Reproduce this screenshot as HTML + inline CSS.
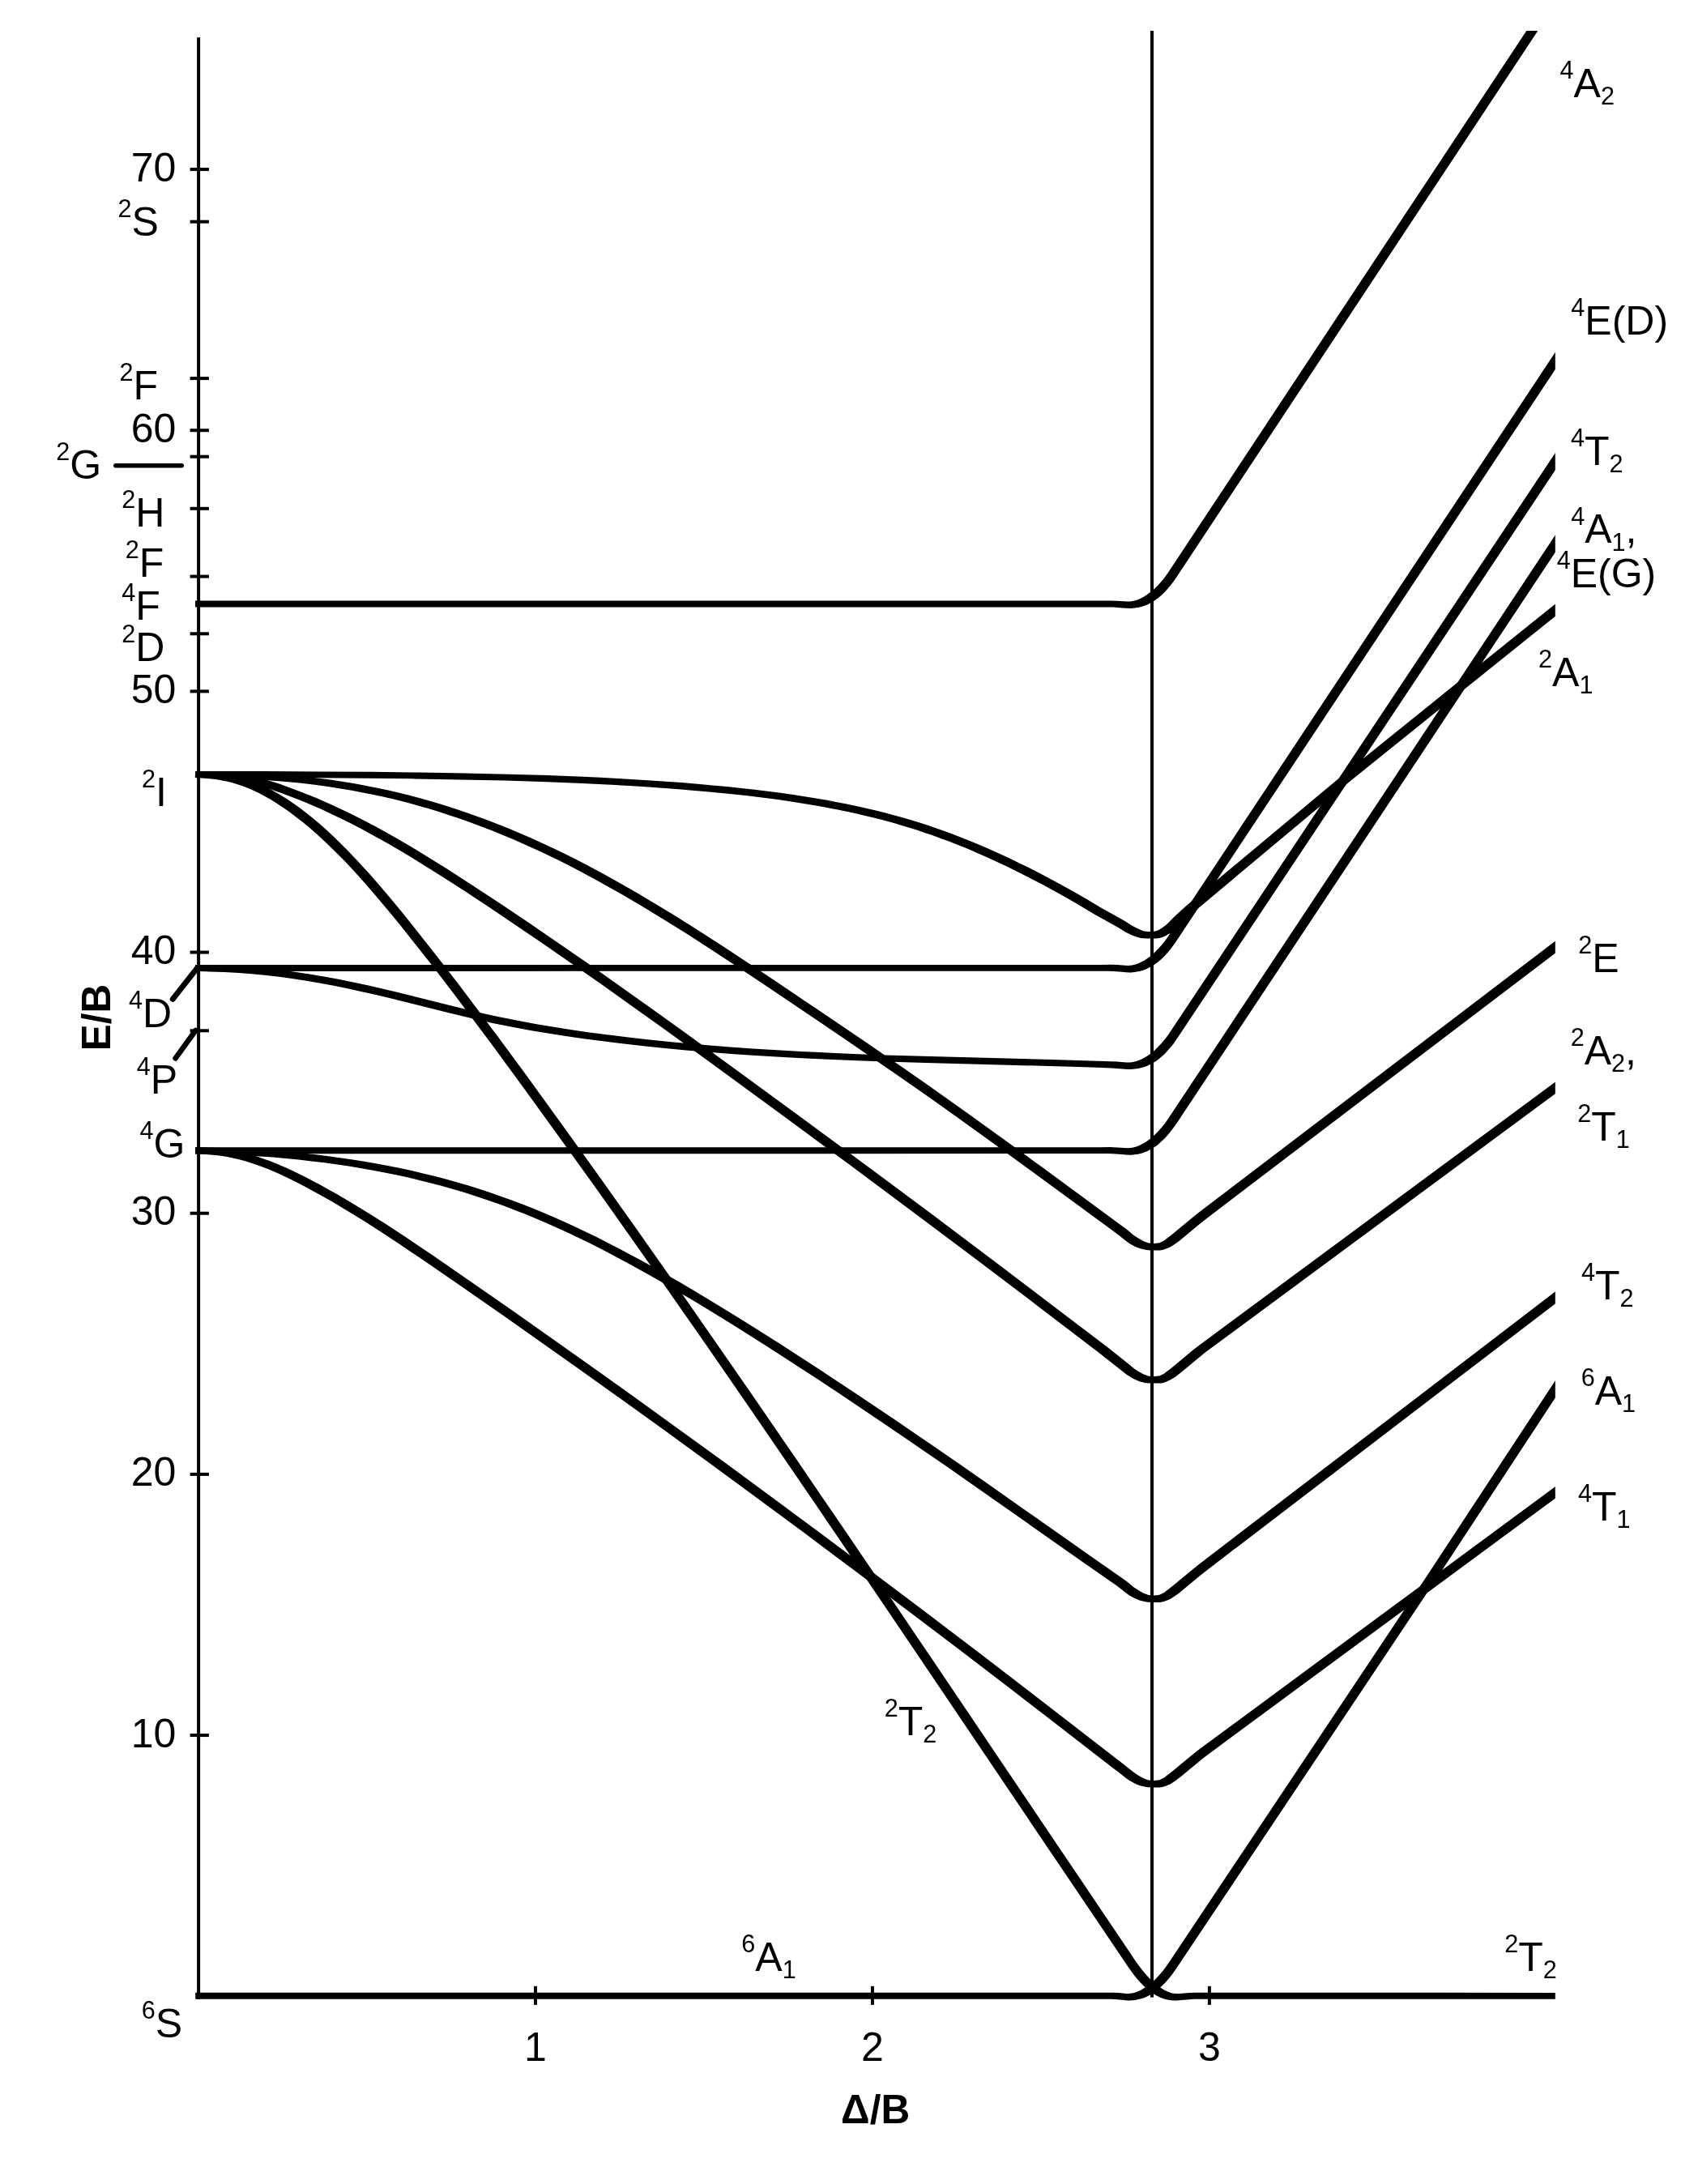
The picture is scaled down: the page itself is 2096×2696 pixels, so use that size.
<!DOCTYPE html>
<html><head><meta charset="utf-8"><title>d5 Tanabe-Sugano diagram</title>
<style>html,body{margin:0;padding:0;background:#fff}svg{display:block;will-change:transform}text{font-family:"Liberation Sans",Arial,Helvetica,sans-serif;fill:#000}</style></head><body>
<svg xmlns="http://www.w3.org/2000/svg" width="2096" height="2696" viewBox="0 0 2096 2696">
<rect width="2096" height="2696" fill="#fff"/>
<defs><clipPath id="cp"><rect x="0" y="38.0" width="1919.8" height="2696.0"/></clipPath></defs>
<g fill="#000">
<rect x="243.1" y="46.2" width="4" height="2421.8"/>
<rect x="1420" y="38" width="4" height="2427.6"/>
<rect x="234.6" y="207.08" width="23.3" height="4"/>
<rect x="234.6" y="529.24" width="23.3" height="4"/>
<rect x="234.6" y="851.40" width="23.3" height="4"/>
<rect x="234.6" y="1173.56" width="23.3" height="4"/>
<rect x="234.6" y="1495.72" width="23.3" height="4"/>
<rect x="234.6" y="1817.88" width="23.3" height="4"/>
<rect x="234.6" y="2140.04" width="23.3" height="4"/>
<rect x="234.6" y="271.70" width="23.3" height="4"/>
<rect x="234.6" y="465.10" width="23.3" height="4"/>
<rect x="234.6" y="561.70" width="23.3" height="4"/>
<rect x="234.6" y="625.80" width="23.3" height="4"/>
<rect x="234.6" y="709.60" width="23.3" height="4"/>
<rect x="234.6" y="780.30" width="23.3" height="4"/>
<rect x="234.6" y="1270.30" width="23.3" height="4"/>
<rect x="659.00" y="2451.8" width="4" height="23.1"/>
<rect x="1074.95" y="2451.8" width="4" height="23.1"/>
<rect x="1490.90" y="2451.8" width="4" height="23.1"/>
</g>
<g stroke="#000" stroke-linecap="round" fill="none">
<path d="M142.8 574.7H224.3" stroke-width="5.4"/>
<path d="M243.5 1194.9L213.2 1233.3" stroke-width="6.9"/>
<path d="M241.5 1272L216.6 1306.4" stroke-width="6.6"/>
</g>
<g clip-path="url(#cp)" fill="#000">
<path d="M241.0 749.5 L1367.2 749.4 L1374.1 749.6 L1385.1 750.4 L1389.7 750.8 L1394.2 751.0 L1396.2 751.0 L1400.5 750.6 L1404.7 749.9 L1406.8 749.5 L1409.0 748.9 L1411.2 748.3 L1415.3 746.8 L1417.3 745.9 L1421.6 743.7 L1423.6 742.4 L1427.5 739.8 L1431.4 736.7 L1435.3 733.3 L1439.0 729.4 L1444.4 723.2 L1448.0 718.6 L1451.6 713.6 L1911.4 18.2 L1901.6 11.8 L1441.8 707.0 L1438.6 711.6 L1435.4 715.8 L1430.3 721.4 L1428.7 723.2 L1425.4 726.4 L1422.2 729.3 L1415.6 734.3 L1412.5 736.3 L1410.9 737.2 L1405.8 739.7 L1402.5 740.9 L1399.1 741.8 L1395.6 742.4 L1392.1 742.6 L1379.0 741.7 L1370.3 741.4 L1357.0 741.5 L241.0 741.5Z"/>
<path d="M241.0 959.9 L323.0 960.0 L393.0 960.3 L455.0 960.7 L512.9 961.4 L568.9 962.4 L622.9 963.6 L668.9 965.0 L712.8 966.7 L754.8 968.8 L776.8 970.0 L796.7 971.3 L834.7 974.0 L854.6 975.7 L872.6 977.3 L890.6 979.0 L908.6 980.8 L924.5 982.6 L940.5 984.5 L956.4 986.6 L970.4 988.6 L984.3 990.7 L998.3 992.9 L1010.2 995.0 L1022.2 997.2 L1034.1 999.5 L1046.1 1002.0 L1058.0 1004.6 L1067.9 1006.9 L1079.9 1009.8 L1089.8 1012.3 L1101.7 1015.6 L1111.7 1018.4 L1121.6 1021.4 L1131.5 1024.6 L1141.4 1027.9 L1151.4 1031.3 L1161.3 1034.9 L1171.2 1038.6 L1183.1 1043.3 L1195.1 1048.1 L1207.0 1053.2 L1218.9 1058.5 L1230.8 1063.9 L1242.7 1069.5 L1254.7 1075.4 L1268.6 1082.4 L1288.5 1092.8 L1298.4 1098.2 L1310.3 1104.8 L1328.2 1115.1 L1350.3 1128.2 L1373.7 1141.2 L1380.4 1145.1 L1387.5 1149.5 L1391.1 1151.5 L1393.1 1152.5 L1397.3 1154.4 L1401.7 1156.1 L1406.2 1157.4 L1408.6 1157.9 L1411.0 1158.2 L1415.7 1158.5 L1424.6 1158.5 L1427.2 1158.5 L1429.7 1158.2 L1432.3 1157.7 L1435.4 1156.7 L1438.2 1155.4 L1442.7 1153.1 L1444.7 1151.9 L1446.7 1150.5 L1448.6 1149.0 L1450.3 1147.6 L1456.1 1141.7 L1460.4 1137.6 L1466.9 1131.6 L1471.6 1127.4 L1666.4 964.5 L1803.7 854.0 L1943.7 741.6 L1936.3 732.4 L1796.3 844.8 L1659.0 955.5 L1463.9 1118.5 L1459.0 1122.9 L1452.4 1129.0 L1447.9 1133.3 L1442.3 1139.1 L1439.7 1141.4 L1435.1 1144.9 L1431.1 1147.5 L1429.3 1148.5 L1427.8 1149.0 L1426.0 1149.5 L1424.0 1149.8 L1420.0 1150.1 L1418.1 1150.1 L1414.3 1149.8 L1412.4 1149.4 L1410.6 1148.9 L1409.0 1148.3 L1407.2 1147.6 L1403.6 1145.9 L1396.3 1142.0 L1388.1 1136.8 L1384.1 1134.4 L1358.6 1120.2 L1342.0 1110.3 L1323.7 1099.8 L1303.6 1088.7 L1283.5 1078.0 L1271.4 1071.8 L1259.3 1065.9 L1247.3 1060.0 L1235.2 1054.4 L1223.1 1049.0 L1211.0 1043.7 L1199.0 1038.7 L1188.9 1034.7 L1178.8 1030.7 L1166.7 1026.2 L1154.6 1022.0 L1144.6 1018.6 L1134.5 1015.3 L1124.4 1012.2 L1114.3 1009.2 L1102.3 1005.9 L1092.2 1003.2 L1080.1 1000.2 L1068.0 997.4 L1056.0 994.7 L1043.9 992.2 L1031.9 989.9 L1019.8 987.6 L1005.7 985.2 L991.7 982.9 L977.6 980.8 L963.6 978.8 L947.5 976.7 L931.5 974.8 L915.5 973.0 L897.4 971.1 L879.4 969.4 L861.4 967.8 L841.3 966.1 L803.3 963.4 L763.2 961.0 L741.2 959.8 L719.2 958.8 L675.1 957.1 L627.1 955.7 L573.1 954.4 L517.1 953.5 L459.0 952.8 L395.0 952.4 L325.0 952.1 L241.0 952.0Z"/>
<path d="M241.0 960.0 L258.9 960.1 L274.9 960.5 L290.9 961.0 L304.8 961.5 L320.8 962.4 L334.7 963.4 L350.6 964.7 L364.6 966.0 L378.5 967.5 L392.4 969.3 L406.4 971.2 L420.3 973.4 L434.2 975.8 L448.1 978.4 L462.1 981.2 L474.0 983.8 L487.9 987.1 L501.8 990.6 L515.7 994.4 L527.7 997.8 L541.6 1002.1 L553.5 1005.9 L567.4 1010.6 L581.3 1015.5 L593.2 1019.9 L607.2 1025.3 L621.1 1030.9 L635.0 1036.8 L648.9 1042.9 L662.8 1049.2 L676.7 1055.8 L690.7 1062.6 L702.6 1068.6 L714.5 1074.8 L726.5 1081.2 L740.4 1088.7 L752.3 1095.4 L766.3 1103.3 L792.2 1118.5 L819.2 1134.9 L848.3 1153.1 L879.1 1172.9 L913.3 1195.4 L939.0 1212.5 L969.8 1233.2 L1016.1 1264.5 L1052.1 1289.0 L1103.4 1324.3 L1125.7 1339.8 L1149.7 1356.6 L1177.1 1376.1 L1204.5 1395.7 L1233.6 1416.7 L1266.1 1440.4 L1368.9 1515.8 L1381.3 1525.1 L1389.1 1531.3 L1392.4 1533.7 L1394.2 1534.9 L1398.1 1537.2 L1400.1 1538.2 L1404.0 1539.9 L1408.3 1541.5 L1410.6 1542.1 L1415.1 1543.0 L1417.5 1543.3 L1421.9 1543.4 L1430.7 1543.4 L1433.7 1543.2 L1436.6 1542.5 L1439.4 1541.5 L1442.1 1540.4 L1444.3 1539.4 L1448.3 1537.1 L1452.0 1534.6 L1455.5 1531.9 L1460.0 1528.3 L1481.7 1510.2 L1489.0 1504.4 L1943.6 1158.5 L1936.4 1149.1 L1480.4 1496.2 L1472.6 1502.5 L1450.2 1521.1 L1445.0 1525.3 L1438.7 1530.1 L1437.3 1531.2 L1435.3 1532.3 L1433.3 1533.3 L1431.7 1534.0 L1430.0 1534.4 L1423.9 1535.0 L1422.1 1535.0 L1420.3 1534.8 L1418.6 1534.6 L1416.9 1534.2 L1415.3 1533.6 L1411.7 1532.2 L1409.9 1531.3 L1406.8 1529.6 L1403.6 1527.6 L1400.4 1525.5 L1397.8 1523.4 L1391.7 1518.3 L1384.2 1512.7 L1288.4 1442.3 L1254.1 1417.3 L1223.2 1394.9 L1194.1 1374.0 L1164.9 1353.2 L1140.9 1336.3 L1118.6 1320.8 L1068.8 1286.5 L1034.5 1263.2 L993.3 1235.4 L959.0 1212.3 L931.6 1193.9 L893.8 1169.0 L861.2 1148.0 L845.7 1138.2 L830.2 1128.6 L816.5 1120.2 L801.8 1111.4 L787.8 1103.1 L773.7 1094.9 L759.7 1087.0 L747.6 1080.3 L733.6 1072.7 L721.5 1066.3 L709.4 1060.1 L697.4 1054.1 L683.3 1047.3 L669.2 1040.7 L655.1 1034.3 L641.0 1028.2 L626.9 1022.3 L612.9 1016.7 L598.8 1011.3 L586.7 1006.9 L572.6 1001.9 L558.5 997.3 L544.4 992.8 L532.4 989.2 L520.3 985.8 L506.2 982.1 L492.1 978.6 L478.0 975.3 L465.9 972.7 L451.9 969.9 L437.8 967.3 L423.7 965.0 L409.6 962.8 L395.6 960.9 L381.5 959.2 L367.4 957.7 L353.4 956.4 L337.3 955.2 L323.3 954.3 L307.2 953.5 L291.1 952.9 L275.1 952.4 L259.1 952.2 L241.0 952.0Z"/>
<path d="M240.9 960.0 L250.9 960.3 L258.8 960.6 L266.7 961.1 L274.6 961.8 L282.5 962.7 L290.4 963.7 L298.3 965.0 L304.1 966.2 L312.0 967.9 L317.8 969.5 L325.7 971.7 L331.6 973.5 L339.4 976.2 L347.3 979.0 L357.2 982.7 L367.1 986.6 L377.1 990.6 L387.0 994.8 L396.9 999.1 L406.8 1003.7 L416.7 1008.4 L426.7 1013.2 L436.6 1018.2 L448.5 1024.5 L458.4 1029.9 L470.3 1036.5 L482.3 1043.3 L494.2 1050.3 L505.6 1057.1 L519.2 1065.4 L544.8 1081.5 L572.2 1099.1 L604.7 1120.6 L637.2 1142.4 L671.5 1165.7 L705.7 1189.4 L741.7 1214.6 L779.4 1241.4 L820.5 1270.8 L889.0 1320.5 L969.6 1379.5 L1046.7 1436.3 L1122.1 1492.4 L1200.9 1551.6 L1278.0 1609.9 L1356.7 1669.9 L1368.1 1678.9 L1390.6 1696.7 L1394.2 1699.1 L1396.1 1700.3 L1398.1 1701.4 L1402.0 1703.3 L1405.9 1704.9 L1408.3 1705.7 L1410.6 1706.3 L1412.9 1706.9 L1415.1 1707.2 L1417.5 1707.5 L1419.7 1707.6 L1430.7 1707.6 L1433.7 1707.4 L1436.6 1706.7 L1439.4 1705.7 L1442.1 1704.6 L1444.3 1703.6 L1448.3 1701.3 L1452.0 1698.8 L1458.7 1693.5 L1480.1 1675.7 L1485.6 1671.2 L1489.0 1668.6 L1943.5 1332.6 L1936.5 1323.2 L1488.6 1654.5 L1480.5 1660.4 L1472.6 1666.6 L1450.2 1685.3 L1445.0 1689.5 L1438.7 1694.3 L1437.3 1695.4 L1435.3 1696.5 L1433.3 1697.5 L1431.7 1698.2 L1430.0 1698.6 L1423.9 1699.2 L1422.1 1699.2 L1418.6 1698.8 L1416.9 1698.4 L1415.3 1697.8 L1411.7 1696.4 L1409.9 1695.5 L1405.2 1692.9 L1400.4 1689.7 L1397.7 1687.6 L1389.7 1680.9 L1367.1 1663.1 L1309.1 1618.9 L1228.5 1557.7 L1147.9 1497.1 L1072.5 1440.9 L997.0 1385.2 L918.1 1327.4 L846.1 1275.0 L803.2 1244.2 L762.0 1214.9 L724.3 1188.3 L686.5 1162.2 L650.5 1137.6 L616.2 1114.5 L581.8 1091.9 L552.6 1073.1 L538.8 1064.4 L525.1 1055.9 L513.0 1048.6 L499.8 1040.8 L487.7 1033.8 L475.7 1027.0 L463.6 1020.3 L453.5 1015.0 L441.4 1008.7 L431.4 1003.7 L421.3 998.9 L411.2 994.2 L401.1 989.7 L391.0 985.3 L380.9 981.2 L368.8 976.4 L352.7 970.4 L344.6 967.5 L336.5 964.9 L328.3 962.5 L322.2 960.9 L314.0 958.9 L307.9 957.7 L299.8 956.3 L293.6 955.4 L285.5 954.4 L277.4 953.6 L269.3 953.0 L261.2 952.5 L251.1 952.2 L241.1 952.0Z"/>
<path d="M240.8 960.1 L250.8 960.5 L258.6 961.2 L266.5 962.1 L274.3 963.4 L282.0 965.1 L287.8 966.6 L295.5 968.9 L303.3 971.8 L311.0 975.0 L318.7 978.6 L326.5 982.7 L334.3 987.1 L340.9 991.2 L349.3 996.7 L357.6 1002.6 L366.0 1009.0 L374.5 1015.6 L382.9 1022.6 L391.4 1030.0 L399.0 1036.9 L407.9 1045.4 L416.8 1054.2 L425.8 1063.3 L434.7 1072.8 L443.3 1082.2 L452.6 1092.7 L461.9 1103.4 L472.5 1115.9 L483.1 1128.8 L493.8 1141.8 L505.7 1156.8 L519.0 1173.6 L532.4 1190.6 L547.0 1209.6 L561.7 1228.8 L577.6 1249.9 L610.7 1294.2 L646.6 1343.3 L689.8 1402.9 L733.0 1463.1 L777.4 1525.7 L824.2 1592.2 L872.2 1661.1 L922.6 1734.0 L975.3 1811.0 L1032.9 1895.4 L1084.5 1971.5 L1142.1 2056.7 L1308.9 2304.1 L1381.3 2411.3 L1392.9 2428.6 L1399.2 2437.3 L1400.5 2439.0 L1404.3 2443.5 L1408.1 2447.8 L1410.0 2449.8 L1413.9 2453.6 L1415.8 2455.4 L1419.8 2458.6 L1423.8 2461.3 L1427.8 2463.6 L1431.8 2465.6 L1436.0 2467.2 L1439.9 2468.3 L1444.0 2469.0 L1448.1 2469.4 L1452.1 2469.4 L1470.8 2468.0 L1475.1 2467.8 L1480.1 2467.7 L1940.0 2467.8 L1940.0 2459.9 L1491.8 2459.8 L1476.8 2459.7 L1468.2 2460.0 L1461.7 2460.4 L1455.3 2460.9 L1451.9 2461.0 L1448.9 2460.8 L1445.8 2460.2 L1442.7 2459.1 L1441.1 2458.5 L1438.1 2457.0 L1435.0 2455.2 L1430.2 2451.9 L1426.8 2449.4 L1423.6 2446.6 L1420.2 2443.4 L1416.7 2439.8 L1411.4 2433.7 L1408.5 2430.1 L1402.5 2422.0 L1391.0 2404.8 L1318.7 2297.6 L1151.9 2050.1 L1093.1 1963.1 L1041.5 1887.1 L983.9 1802.6 L931.0 1725.6 L880.6 1652.7 L832.6 1583.8 L784.6 1515.5 L739.0 1451.2 L693.4 1387.7 L650.2 1328.1 L614.1 1279.1 L581.7 1235.8 L565.7 1214.6 L551.0 1195.5 L536.3 1176.6 L521.6 1157.9 L509.6 1142.8 L497.6 1127.8 L486.9 1114.8 L476.2 1102.0 L465.5 1089.5 L456.1 1078.8 L447.8 1069.7 L438.8 1060.0 L429.7 1050.5 L420.7 1041.4 L411.6 1032.6 L402.5 1024.1 L394.0 1016.6 L385.3 1009.3 L378.4 1003.7 L369.7 997.0 L362.6 992.0 L353.8 986.1 L345.1 980.7 L337.7 976.5 L329.5 972.1 L321.2 968.2 L315.0 965.5 L306.8 962.4 L300.5 960.3 L292.3 958.0 L284.0 956.1 L275.7 954.6 L267.5 953.6 L259.4 952.8 L251.2 952.3 L241.2 952.0Z"/>
<path d="M241.0 1198.9 L1367.2 1198.8 L1374.1 1199.0 L1385.1 1199.8 L1389.7 1200.2 L1394.2 1200.4 L1396.3 1200.4 L1400.5 1200.0 L1404.6 1199.3 L1406.7 1198.9 L1411.1 1197.7 L1413.2 1196.9 L1417.3 1195.1 L1421.3 1193.0 L1425.4 1190.6 L1429.4 1187.6 L1433.3 1184.3 L1438.8 1178.7 L1442.5 1174.6 L1446.2 1170.1 L1451.4 1162.8 L1944.9 418.2 L1935.1 411.8 L1441.8 1156.2 L1436.9 1162.9 L1433.6 1167.0 L1430.3 1170.6 L1425.3 1175.7 L1420.4 1180.0 L1417.2 1182.4 L1412.3 1185.7 L1410.7 1186.6 L1407.4 1188.3 L1404.1 1189.7 L1400.7 1190.8 L1398.9 1191.2 L1395.5 1191.8 L1392.1 1192.0 L1379.0 1191.1 L1370.3 1190.8 L1357.0 1191.0 L241.0 1191.0Z"/>
<path d="M241.0 1199.1 L258.9 1199.4 L276.8 1200.0 L294.7 1201.0 L310.7 1202.2 L326.6 1203.7 L344.5 1205.8 L360.4 1208.0 L378.3 1210.7 L394.2 1213.5 L412.1 1216.8 L430.1 1220.5 L448.0 1224.4 L464.0 1228.0 L481.9 1232.3 L551.9 1249.8 L579.9 1256.6 L594.0 1259.8 L608.0 1262.9 L622.1 1265.8 L636.2 1268.6 L656.2 1272.2 L676.3 1275.6 L698.3 1279.0 L722.4 1282.4 L746.4 1285.6 L770.5 1288.6 L794.5 1291.3 L818.6 1293.8 L846.6 1296.4 L874.7 1298.8 L902.7 1301.0 L932.7 1303.0 L962.8 1304.8 L994.8 1306.5 L1028.8 1308.0 L1064.8 1309.5 L1100.9 1310.7 L1142.9 1312.0 L1286.9 1315.8 L1346.9 1317.6 L1371.8 1318.5 L1391.9 1320.0 L1396.3 1320.0 L1400.7 1319.6 L1405.0 1319.0 L1407.1 1318.6 L1411.3 1317.4 L1415.6 1315.9 L1419.7 1314.1 L1421.8 1313.0 L1423.9 1311.8 L1427.9 1309.3 L1429.9 1307.8 L1433.7 1304.6 L1437.5 1301.2 L1442.8 1295.3 L1448.2 1288.9 L1451.6 1284.1 L1944.9 542.7 L1935.1 536.1 L1442.0 1277.5 L1438.8 1281.7 L1434.0 1287.6 L1429.1 1292.8 L1424.3 1297.4 L1422.7 1298.8 L1419.5 1301.2 L1416.2 1303.6 L1414.6 1304.6 L1409.7 1307.3 L1406.2 1308.8 L1402.8 1310.0 L1399.3 1310.8 L1395.7 1311.4 L1392.1 1311.6 L1390.3 1311.5 L1378.6 1310.6 L1370.6 1310.2 L1299.1 1308.1 L1139.1 1303.8 L1093.1 1302.4 L1053.2 1300.9 L1021.2 1299.5 L989.2 1298.0 L959.2 1296.3 L929.3 1294.5 L901.3 1292.5 L873.3 1290.3 L847.4 1288.0 L821.4 1285.5 L797.5 1283.0 L773.5 1280.3 L749.5 1277.3 L727.6 1274.4 L705.6 1271.2 L683.7 1267.8 L663.8 1264.5 L643.8 1260.8 L629.9 1258.1 L615.9 1255.3 L602.0 1252.2 L586.1 1248.5 L558.1 1241.8 L490.1 1224.8 L472.1 1220.4 L456.0 1216.7 L435.9 1212.4 L417.9 1208.7 L399.8 1205.4 L383.7 1202.7 L365.6 1199.9 L347.5 1197.5 L329.4 1195.5 L313.4 1194.0 L297.3 1192.9 L279.2 1192.0 L261.1 1191.4 L241.0 1191.1Z"/>
<path d="M241.0 1424.2 L1367.2 1424.1 L1374.1 1424.3 L1385.1 1425.1 L1389.7 1425.5 L1394.2 1425.7 L1396.3 1425.7 L1400.5 1425.3 L1404.6 1424.7 L1406.7 1424.2 L1408.9 1423.7 L1411.1 1423.0 L1415.2 1421.4 L1417.2 1420.5 L1421.3 1418.3 L1423.4 1417.1 L1427.4 1414.4 L1429.4 1412.9 L1435.0 1407.8 L1437.0 1405.9 L1438.9 1403.9 L1444.4 1397.6 L1447.9 1393.0 L1452.6 1386.4 L1944.9 643.9 L1935.1 637.5 L1442.8 1379.8 L1438.5 1386.0 L1435.2 1390.2 L1430.2 1395.9 L1427.0 1399.3 L1422.0 1403.9 L1417.1 1407.7 L1415.5 1408.9 L1412.2 1410.9 L1407.3 1413.6 L1404.1 1415.0 L1400.7 1416.1 L1398.9 1416.5 L1395.5 1417.1 L1392.1 1417.3 L1379.0 1416.4 L1370.3 1416.1 L1357.0 1416.2 L241.0 1416.2Z"/>
<path d="M241.0 1424.3 L256.9 1424.6 L272.9 1425.0 L288.8 1425.6 L304.8 1426.4 L320.7 1427.4 L336.7 1428.6 L352.6 1430.0 L368.6 1431.6 L384.5 1433.4 L400.4 1435.3 L416.4 1437.5 L430.3 1439.6 L446.3 1442.2 L460.2 1444.7 L476.1 1447.7 L490.1 1450.6 L504.0 1453.6 L517.9 1456.9 L531.8 1460.4 L543.8 1463.6 L557.7 1467.5 L571.6 1471.6 L585.5 1476.0 L597.4 1480.0 L611.4 1484.8 L623.3 1489.1 L637.2 1494.4 L649.1 1499.1 L661.0 1504.0 L675.0 1510.0 L688.9 1516.2 L702.8 1522.6 L714.7 1528.3 L726.7 1534.1 L738.6 1540.1 L752.5 1547.3 L766.5 1554.7 L780.4 1562.2 L794.4 1570.0 L808.3 1577.8 L822.3 1585.8 L838.2 1595.2 L854.2 1604.6 L870.7 1614.6 L904.9 1635.6 L940.8 1658.3 L963.1 1672.5 L985.3 1687.0 L1009.3 1702.6 L1035.0 1719.6 L1084.7 1752.9 L1136.0 1787.9 L1168.6 1810.3 L1202.8 1834.2 L1334.8 1927.0 L1370.3 1951.7 L1377.2 1956.5 L1382.5 1960.5 L1389.1 1965.8 L1392.4 1968.2 L1394.2 1969.4 L1398.1 1971.7 L1402.0 1973.6 L1405.9 1975.2 L1408.3 1976.0 L1410.6 1976.6 L1415.1 1977.5 L1417.5 1977.8 L1421.9 1977.9 L1430.7 1977.9 L1433.7 1977.7 L1436.6 1977.0 L1439.4 1976.0 L1442.1 1974.9 L1444.3 1973.9 L1448.3 1971.6 L1452.0 1969.1 L1455.5 1966.4 L1460.0 1962.8 L1481.7 1944.7 L1489.0 1938.9 L1943.6 1591.2 L1936.4 1581.8 L1480.4 1930.7 L1472.6 1937.0 L1450.2 1955.6 L1445.0 1959.8 L1438.7 1964.6 L1437.3 1965.7 L1435.3 1966.8 L1433.3 1967.8 L1431.7 1968.5 L1430.0 1968.9 L1423.9 1969.5 L1422.1 1969.5 L1420.3 1969.3 L1418.6 1969.1 L1416.9 1968.7 L1415.3 1968.1 L1411.7 1966.7 L1409.9 1965.8 L1406.8 1964.1 L1402.0 1961.1 L1399.1 1959.0 L1391.6 1952.7 L1385.4 1948.2 L1348.5 1922.5 L1216.3 1829.5 L1183.7 1806.8 L1152.8 1785.5 L1103.1 1751.5 L1055.0 1719.3 L1007.0 1687.6 L984.6 1673.0 L962.3 1658.6 L924.6 1634.7 L905.7 1622.9 L888.5 1612.4 L871.3 1602.0 L853.8 1591.6 L837.8 1582.1 L821.7 1572.9 L805.7 1563.8 L791.6 1556.0 L777.6 1548.4 L763.5 1540.9 L749.4 1533.7 L737.4 1527.6 L723.3 1520.7 L711.2 1515.0 L697.2 1508.5 L683.1 1502.3 L669.0 1496.3 L656.9 1491.3 L644.8 1486.6 L630.7 1481.2 L618.7 1476.9 L604.6 1472.0 L592.5 1468.0 L578.4 1463.6 L564.3 1459.5 L550.3 1455.5 L536.2 1451.8 L522.1 1448.4 L508.0 1445.1 L493.9 1442.1 L479.9 1439.2 L463.8 1436.2 L449.7 1433.8 L433.7 1431.2 L419.6 1429.2 L403.6 1427.0 L387.5 1425.1 L371.4 1423.3 L355.4 1421.8 L339.3 1420.4 L323.3 1419.3 L307.2 1418.3 L291.2 1417.6 L275.1 1417.0 L259.1 1416.6 L241.0 1416.3Z"/>
<path d="M240.9 1424.4 L248.9 1424.7 L254.8 1425.0 L262.6 1425.7 L268.5 1426.3 L274.4 1427.1 L280.3 1428.1 L286.1 1429.2 L292.0 1430.5 L297.9 1432.0 L303.7 1433.6 L309.6 1435.5 L315.5 1437.4 L323.3 1440.2 L329.2 1442.5 L337.0 1445.8 L342.9 1448.3 L350.8 1451.9 L358.7 1455.7 L366.6 1459.7 L374.5 1463.8 L392.4 1473.4 L410.3 1483.6 L430.1 1495.4 L450.6 1508.1 L471.1 1521.2 L495.0 1537.0 L527.5 1559.0 L570.3 1588.5 L621.7 1624.3 L674.8 1661.7 L722.8 1695.7 L772.5 1731.3 L822.2 1767.1 L871.9 1803.2 L933.5 1848.5 L995.2 1894.1 L1056.9 1940.2 L1120.3 1987.9 L1183.7 2036.0 L1247.1 2084.6 L1288.3 2116.3 L1372.5 2181.4 L1380.6 2187.6 L1389.3 2194.5 L1392.5 2196.8 L1394.2 2197.9 L1396.2 2199.1 L1400.1 2201.2 L1404.0 2202.9 L1405.9 2203.7 L1408.3 2204.5 L1410.6 2205.1 L1415.1 2206.0 L1417.5 2206.3 L1419.7 2206.4 L1430.7 2206.4 L1433.7 2206.2 L1436.6 2205.5 L1439.4 2204.5 L1442.1 2203.4 L1444.3 2202.4 L1448.3 2200.1 L1452.0 2197.6 L1458.7 2192.3 L1481.7 2173.2 L1485.6 2170.0 L1489.0 2167.4 L1943.5 1832.1 L1936.5 1822.7 L1488.6 2153.3 L1480.5 2159.2 L1472.6 2165.4 L1450.2 2184.1 L1445.0 2188.3 L1438.7 2193.1 L1437.3 2194.2 L1435.3 2195.3 L1433.3 2196.3 L1431.7 2197.0 L1430.0 2197.4 L1423.9 2198.0 L1422.1 2198.0 L1418.6 2197.6 L1416.9 2197.2 L1413.5 2196.0 L1409.9 2194.3 L1408.4 2193.5 L1403.7 2190.7 L1399.1 2187.5 L1387.8 2178.4 L1271.4 2088.4 L1208.0 2039.8 L1144.5 1991.5 L1081.1 1943.7 L1019.3 1897.5 L957.6 1851.7 L897.6 1807.6 L844.4 1768.9 L791.2 1730.5 L738.1 1692.4 L686.6 1655.9 L630.0 1616.1 L573.4 1576.7 L532.2 1548.3 L515.0 1536.7 L499.6 1526.3 L475.5 1510.6 L454.8 1497.5 L433.9 1484.7 L415.8 1474.1 L405.7 1468.4 L395.6 1462.8 L387.5 1458.5 L377.5 1453.2 L369.4 1449.2 L361.3 1445.3 L353.2 1441.5 L347.1 1438.9 L341.0 1436.3 L332.8 1433.1 L326.7 1430.9 L318.6 1428.1 L312.4 1426.2 L306.3 1424.5 L300.2 1422.9 L294.0 1421.5 L287.9 1420.3 L281.7 1419.3 L275.6 1418.5 L269.5 1417.8 L263.4 1417.3 L257.3 1416.9 L251.2 1416.6 L241.1 1416.3Z"/>
<path d="M241.2 2467.8 L1367.2 2467.7 L1371.9 2467.8 L1376.3 2468.1 L1385.0 2468.7 L1391.9 2469.4 L1394.1 2469.5 L1398.3 2469.2 L1402.4 2468.7 L1404.5 2468.3 L1406.6 2467.8 L1410.6 2466.7 L1412.8 2465.9 L1415.0 2465.0 L1419.0 2463.1 L1421.1 2461.9 L1425.1 2459.3 L1429.1 2456.2 L1431.0 2454.6 L1434.8 2451.1 L1438.6 2447.2 L1444.2 2440.8 L1447.8 2436.0 L1452.5 2429.3 L1771.9 1950.8 L1944.9 1687.3 L1935.1 1680.9 L1762.1 1944.3 L1442.8 2422.8 L1438.4 2429.0 L1435.0 2433.4 L1429.9 2439.2 L1426.6 2442.7 L1421.5 2447.4 L1416.7 2451.3 L1413.5 2453.5 L1410.1 2455.6 L1408.6 2456.5 L1407.1 2457.2 L1402.1 2459.3 L1398.8 2460.2 L1395.4 2460.8 L1392.1 2461.0 L1390.4 2460.9 L1381.2 2460.1 L1374.4 2459.8 L1370.3 2459.7 L1357.0 2459.8 L241.2 2459.8Z"/>
</g>
<g>
<text x="217.3" y="223.6" font-size="50.0" text-anchor="end">70</text>
<text x="217.3" y="545.7" font-size="50.0" text-anchor="end">60</text>
<text x="217.3" y="867.9" font-size="50.0" text-anchor="end">50</text>
<text x="217.3" y="1190.1" font-size="50.0" text-anchor="end">40</text>
<text x="217.3" y="1512.2" font-size="50.0" text-anchor="end">30</text>
<text x="217.3" y="1834.4" font-size="50.0" text-anchor="end">20</text>
<text x="217.3" y="2156.5" font-size="50.0" text-anchor="end">10</text>
<text x="661.0" y="2543.8" font-size="50.0" text-anchor="middle">1</text>
<text x="1077.0" y="2543.8" font-size="50.0" text-anchor="middle">2</text>
<text x="1492.9" y="2543.8" font-size="50.0" text-anchor="middle">3</text>
<text x="145.6" y="290.9" font-size="50.0"><tspan font-size="30.6" dy="-22.9">2</tspan><tspan dy="22.9">S</tspan></text>
<text x="147.5" y="492.6" font-size="50.0"><tspan font-size="30.6" dy="-22.9">2</tspan><tspan dy="22.9">F</tspan></text>
<text x="69.2" y="591.1" font-size="50.0"><tspan font-size="30.6" dy="-22.9">2</tspan><tspan dy="22.9">G</tspan></text>
<text x="150.2" y="649.7" font-size="50.0"><tspan font-size="30.6" dy="-22.9">2</tspan><tspan dy="22.9">H</tspan></text>
<text x="154.7" y="711.7" font-size="50.0"><tspan font-size="30.6" dy="-22.9">2</tspan><tspan dy="22.9">F</tspan></text>
<text x="150.2" y="764.6" font-size="50.0"><tspan font-size="30.6" dy="-22.9">4</tspan><tspan dy="22.9">F</tspan></text>
<text x="150.2" y="815.8" font-size="50.0"><tspan font-size="30.6" dy="-22.9">2</tspan><tspan dy="22.9">D</tspan></text>
<text x="175.0" y="994.5" font-size="50.0"><tspan font-size="30.6" dy="-22.9">2</tspan><tspan dy="22.9">I</tspan></text>
<text x="159.1" y="1268.1" font-size="50.0"><tspan font-size="30.6" dy="-22.9">4</tspan><tspan dy="22.9">D</tspan></text>
<text x="168.7" y="1350.0" font-size="50.0"><tspan font-size="30.6" dy="-22.9">4</tspan><tspan dy="22.9">P</tspan></text>
<text x="172.5" y="1428.5" font-size="50.0"><tspan font-size="30.6" dy="-22.9">4</tspan><tspan dy="22.9">G</tspan></text>
<text x="174.7" y="2514.7" font-size="50.0"><tspan font-size="30.6" dy="-22.9">6</tspan><tspan dy="22.9">S</tspan></text>
<text x="1925.5" y="120.0" font-size="50.0"><tspan font-size="30.6" dy="-22.9">4</tspan><tspan dy="22.9">A</tspan><tspan font-size="30.6" dy="9.2">2</tspan></text>
<text x="1939.3" y="412.8" font-size="50.0"><tspan font-size="30.6" dy="-22.9">4</tspan><tspan dy="22.9">E(D)</tspan></text>
<text x="1939.0" y="573.8" font-size="50.0"><tspan font-size="30.6" dy="-22.9">4</tspan><tspan dy="22.9">T</tspan><tspan font-size="30.6" dy="9.2">2</tspan></text>
<text x="1939.2" y="670.4" font-size="50.0"><tspan font-size="30.6" dy="-22.9">4</tspan><tspan dy="22.9">A</tspan><tspan font-size="30.6" dy="9.2">1</tspan><tspan dy="-9.2">,</tspan></text>
<text x="1921.7" y="724.6" font-size="50.0"><tspan font-size="30.6" dy="-22.9">4</tspan><tspan dy="22.9">E(G)</tspan></text>
<text x="1899.1" y="846.8" font-size="50.0"><tspan font-size="30.6" dy="-22.9">2</tspan><tspan dy="22.9">A</tspan><tspan font-size="30.6" dy="9.2">1</tspan></text>
<text x="1948.3" y="1199.9" font-size="50.0"><tspan font-size="30.6" dy="-22.9">2</tspan><tspan dy="22.9">E</tspan></text>
<text x="1938.7" y="1314.1" font-size="50.0"><tspan font-size="30.6" dy="-22.9">2</tspan><tspan dy="22.9">A</tspan><tspan font-size="30.6" dy="9.2">2</tspan><tspan dy="-9.2">,</tspan></text>
<text x="1947.2" y="1408.2" font-size="50.0"><tspan font-size="30.6" dy="-22.9">2</tspan><tspan dy="22.9">T</tspan><tspan font-size="30.6" dy="9.2">1</tspan></text>
<text x="1951.9" y="1603.8" font-size="50.0"><tspan font-size="30.6" dy="-22.9">4</tspan><tspan dy="22.9">T</tspan><tspan font-size="30.6" dy="9.2">2</tspan></text>
<text x="1951.7" y="1734.2" font-size="50.0"><tspan font-size="30.6" dy="-22.9">6</tspan><tspan dy="22.9">A</tspan><tspan font-size="30.6" dy="9.2">1</tspan></text>
<text x="1948.0" y="1876.7" font-size="50.0"><tspan font-size="30.6" dy="-22.9">4</tspan><tspan dy="22.9">T</tspan><tspan font-size="30.6" dy="9.2">1</tspan></text>
<text x="1857.2" y="2432.6" font-size="50.0"><tspan font-size="30.6" dy="-22.9">2</tspan><tspan dy="22.9">T</tspan><tspan font-size="30.6" dy="9.2">2</tspan></text>
<text x="915.3" y="2432.7" font-size="50.0"><tspan font-size="30.6" dy="-22.9">6</tspan><tspan dy="22.9">A</tspan><tspan font-size="30.6" dy="9.2">1</tspan></text>
<text x="1091.8" y="2142.0" font-size="50.0"><tspan font-size="30.6" dy="-22.9">2</tspan><tspan dy="22.9">T</tspan><tspan font-size="30.6" dy="9.2">2</tspan></text>
<text transform="translate(136 1256) rotate(-90)" font-size="49.5" font-weight="bold" text-anchor="middle">E/B</text>
<text x="1080.6" y="2620.9" font-size="49.5" font-weight="bold" text-anchor="middle">Δ/B</text>
</g>
</svg>
</body></html>
